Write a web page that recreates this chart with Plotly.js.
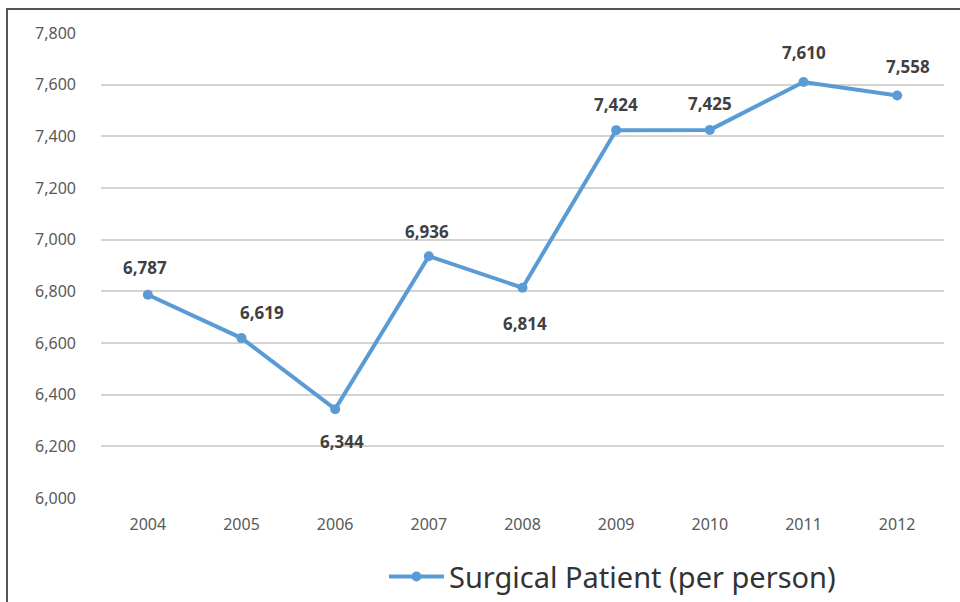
<!DOCTYPE html>
<html>
<head>
<meta charset="utf-8">
<script src="https://cdn.plot.ly/plotly-3.0.1.min.js"></script>
<style>
html,body{margin:0;padding:0;background:#fff;}
#wrap{position:relative;width:960px;height:602px;overflow:hidden;}
#chart{position:absolute;left:0;top:0;width:960px;height:602px;}
#frame{position:absolute;left:6px;top:8px;width:960px;height:610px;border-top:2px solid #555;border-left:2px solid #555;pointer-events:none;}
</style>
</head>
<body>
<div id="wrap"><div id="chart"></div><div id="frame"></div></div>
<script>
const years = ['2004','2005','2006','2007','2008','2009','2010','2011','2012'];
const patients = [6787, 6619, 6344, 6936, 6814, 7424, 7425, 7610, 7558];
const seriesName = 'Surgical Patient (per person)';
const tickVals = [6000, 6200, 6400, 6600, 6800, 7000, 7200, 7400, 7600, 7800];

// label offsets in pixels (style only)
const labelShift = [[-3,-27],[20,-26],[7,32],[-2,-25],[2,36],[0,-26],[0,-26],[0,-30],[11,-29]];

const FONT = 'Noto Sans, DejaVu Sans, sans-serif';

const trace = {
  x: years, y: patients, type: 'scatter', mode: 'lines+markers', name: seriesName,
  line: {color: '#5b9bd5', width: 4},
  marker: {color: '#5b9bd5', size: 10},
  hoverinfo: 'skip'
};

const annotations = years.map((yr, i) => ({
  x: i, y: patients[i], xref: 'x', yref: 'y',
  text: '<b>' + patients[i].toLocaleString('en-US') + '</b>',
  showarrow: false, xshift: labelShift[i][0], yshift: -labelShift[i][1],
  xanchor: 'center', yanchor: 'middle',
  font: {family: FONT, size: 17, color: '#404040'}
}));

const layout = {
  width: 960, height: 602,
  margin: {l: 101, r: 16, t: 33, b: 104},
  paper_bgcolor: '#fff', plot_bgcolor: '#fff',
  showlegend: true,
  legend: {orientation: 'h', xref: 'container', yref: 'container', x: 0.40, xanchor: 'left', y: 0.042, yanchor: 'middle',
           borderwidth: 0, tracegroupgap: 0, itemwidth: 55,
           font: {family: FONT, size: 29, color: '#333'}},
  xaxis: {type: 'category', range: [-0.5, 8.5], showgrid: false, zeroline: false, showline: false,
          ticks: '', tickfont: {family: FONT, size: 16, color: '#595959'}, ticklabelstandoff: 15},
  yaxis: {range: [6000, 7800], tickvals: tickVals, ticktext: tickVals.map(v => v.toLocaleString('en-US')),
          showgrid: true, gridcolor: '#d4d4d4', gridwidth: 2, zeroline: false, showline: false, ticks: '',
          tickfont: {family: FONT, size: 16, color: '#595959'}, ticklabelstandoff: 24},
  annotations: annotations
};

Plotly.newPlot('chart', [trace], layout, {displayModeBar: false, staticPlot: true});
</script>
</body>
</html>
